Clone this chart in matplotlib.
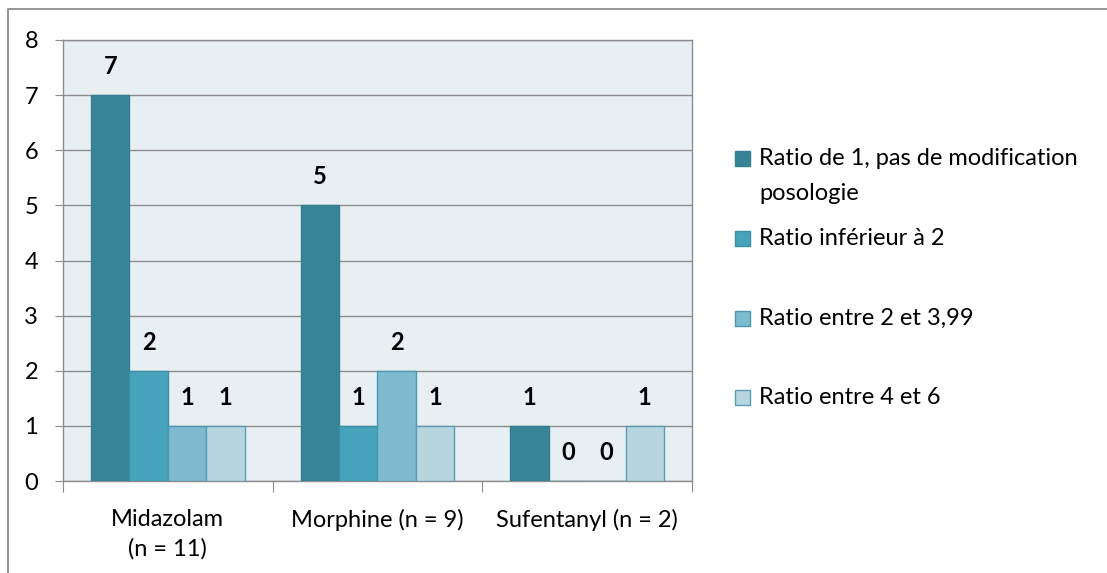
import matplotlib.pyplot as plt
from matplotlib.patches import Rectangle
from matplotlib.lines import Line2D
import numpy as np

plt.rcParams['font.family'] = ['Lato', 'DejaVu Sans']

categories = ["Midazolam\n(n = 11)", "Morphine (n = 9)", "Sufentanyl (n = 2)"]
series_names = ["Ratio de 1, pas de modification\nposologie",
                "Ratio inférieur à 2",
                "Ratio entre 2 et 3,99",
                "Ratio entre 4 et 6"]
values = [
    [7, 5, 1],   # ratio de 1
    [2, 1, 0],   # < 2
    [1, 2, 0],   # 2 - 3,99
    [1, 1, 1],   # 4 - 6
]
colors = ['#378497', '#46A3BB', '#7EBBD0', '#B6D5DF']
edges = ['#357F92', '#3A8FA5', '#4A98B0', '#5A9DB2']

W, H = 1107, 573
fig = plt.figure(figsize=(W / 100, H / 100), dpi=100)
ax = fig.add_axes([63 / W, 1 - 481 / H, (692 - 63) / W, (481 - 40) / H])
ax.set_facecolor('#E8EFF2')

# outer chart border (only top and left visible in the crop)
fig.add_artist(Line2D([8 / W, 8 / W, 1], [0, 1 - 9 / H, 1 - 9 / H],
                      transform=fig.transFigure, color='#8C8C8C', linewidth=1.3))

x = np.arange(len(categories))
w = 0.183
for i, vals in enumerate(values):
    pos = x + (i - 1.5) * w
    ax.bar(pos, vals, w, color=colors[i], edgecolor=edges[i], linewidth=1.0, zorder=3)
    for xp, v in zip(pos, vals):
        ax.annotate(str(v), (xp, v), xytext=(0, 20.5), textcoords='offset points',
                    ha='center', va='center', fontsize=17, fontweight='bold')

ax.set_xlim(-0.5, 2.5)
ax.set_ylim(0, 8)
ax.set_yticks(range(0, 9))
ax.yaxis.grid(True, color='#8C8C8C', linewidth=1.0, zorder=0)
ax.set_axisbelow(True)
for s in ax.spines.values():
    s.set_color('#8C8C8C')
    s.set_linewidth(1.0)
ax.tick_params(axis='y', length=6, color='#8C8C8C', labelsize=17, pad=12)
ax.set_xticks([-0.5, 0.5, 1.5, 2.5])
ax.set_xticklabels([])
ax.tick_params(axis='x', length=8, color='#8C8C8C')
ax.set_xticks(x, minor=True)
ax.set_xticklabels(categories, minor=True, fontsize=17)
ax.tick_params(axis='x', which='minor', length=0, pad=20)
for lbl in ax.get_xticklabels(minor=True):
    lbl.set_linespacing(1.45)
    lbl.set_verticalalignment('top')

# legend drawn by hand to keep Excel's even row pitch
leg_y = [158, 238, 318, 397]
for i, name in enumerate(series_names):
    yy = 1 - leg_y[i] / H
    fig.add_artist(Rectangle((735 / W, yy - 8 / H), 15 / W, 15 / H,
                             transform=fig.transFigure, facecolor=colors[i],
                             edgecolor=edges[i], linewidth=1.0))
    fig.text(759 / W, yy + 10 / H, name, fontsize=17, va='top', ha='left',
             linespacing=1.85)

fig.savefig('out.png', dpi=100)
